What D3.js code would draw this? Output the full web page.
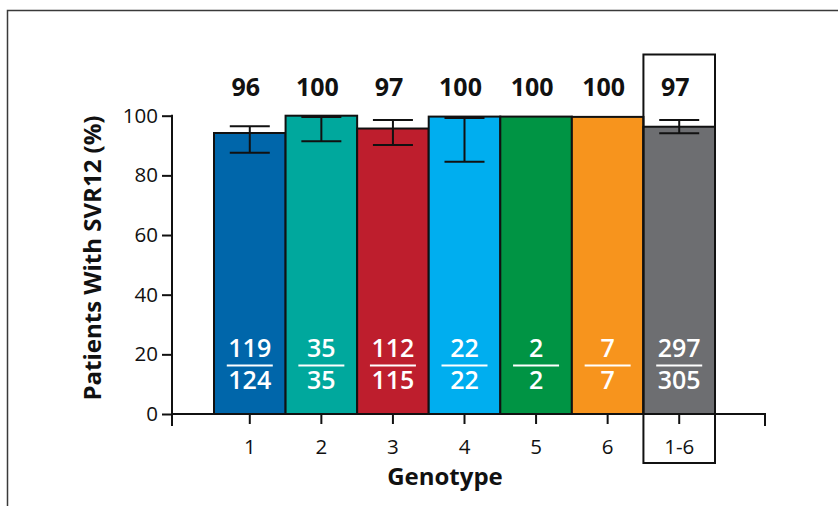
<!DOCTYPE html>
<html><head><meta charset="utf-8">
<script src="https://cdn.jsdelivr.net/npm/d3@7"></script>
<style>
html,body{margin:0;padding:0;background:#fff;}
svg{display:block;font-family:"Open Sans","Noto Sans",sans-serif;}
</style></head>
<body><svg id="c" width="838" height="506"></svg>
<script>
const categories = ["1","2","3","4","5","6","1-6"];
const barValues  = [94.2, 100, 95.7, 99.7, 99.7, 99.6, 96.3];
const pctLabels  = ["96","100","97","100","100","100","97"];
const errLow     = [87.6, 91.4, 90.2, 84.6, null, null, 94.1];
const errHigh    = [96.5, 99.6, 98.6, 99.2, null, null, 98.6];
const responders = [119, 35, 112, 22, 2, 7, 297];
const totals     = [124, 35, 115, 22, 2, 7, 305];
const barColors  = ["#0066AA","#00A89D","#BE1E2D","#00AEEF","#009444","#F7941D","#6D6E71"];
const yTicks     = [0, 20, 40, 60, 80, 100];
const yTitle = "Patients With SVR12 (%)";
const xTitle = "Genotype";

const svg = d3.select("#c");
// frame
svg.append("path").attr("d","M7.5,506 V10.5 H838").attr("fill","none").attr("stroke","#3a3a3a").attr("stroke-width",1.5);

const x = d3.scaleBand().domain(categories).range([214, 715]).padding(0);
const y = d3.scaleLinear().domain([0, 100]).range([414, 115.7]);
const axisX0 = 172, axisXEnd = 765, axisBottomExt = 426;

const g = svg.append("g");

// bars
g.selectAll("rect.bar").data(categories).join("rect").attr("class","bar")
  .attr("x", d => x(d)).attr("width", x.bandwidth())
  .attr("y", (d,i) => y(barValues[i])).attr("height", (d,i) => y(0) - y(barValues[i]))
  .attr("fill", (d,i) => barColors[i]).attr("stroke","#111").attr("stroke-width",2);

// error bars
const capW = 40;
categories.forEach((c,i) => {
  if (errLow[i] == null) return;
  const cx = x(c) + x.bandwidth()/2;
  const eg = g.append("g").attr("stroke","#111").attr("stroke-width",2);
  eg.append("line").attr("x1",cx).attr("x2",cx).attr("y1",y(errLow[i])).attr("y2",y(errHigh[i]));
  eg.append("line").attr("x1",cx-capW/2).attr("x2",cx+capW/2).attr("y1",y(errLow[i])).attr("y2",y(errLow[i]));
  eg.append("line").attr("x1",cx-capW/2).attr("x2",cx+capW/2).attr("y1",y(errHigh[i])).attr("y2",y(errHigh[i]));
});

// percentage labels
g.selectAll("text.pct").data(categories).join("text").attr("class","pct")
  .attr("x", d => x(d) + x.bandwidth()/2 - 4).attr("y", 96)
  .attr("text-anchor","middle").attr("font-weight",700).attr("font-size",25)
  .attr("fill","#111").text((d,i) => pctLabels[i]);

// fractions
categories.forEach((c,i) => {
  const cx = x(c) + x.bandwidth()/2;
  g.append("text").attr("x",cx).attr("y",357).attr("text-anchor","middle")
    .attr("font-weight",600).attr("font-size",25).attr("fill","#fff").text(responders[i]);
  g.append("line").attr("x1",cx-23).attr("x2",cx+23).attr("y1",365.5).attr("y2",365.5)
    .attr("stroke","#fff").attr("stroke-width",2);
  g.append("text").attr("x",cx).attr("y",389).attr("text-anchor","middle")
    .attr("font-weight",600).attr("font-size",25).attr("fill","#fff").text(totals[i]);
});

// y axis
const yAxis = d3.axisLeft(y).tickValues(yTicks).tickSize(10).tickPadding(4);
const ya = svg.append("g").attr("transform",`translate(${axisX0},0)`).call(yAxis);
ya.select(".domain").remove();
ya.selectAll(".tick line").attr("stroke","#111").attr("stroke-width",2);
ya.selectAll(".tick text").attr("font-size",20.5).attr("fill","#111").attr("font-family","Open Sans");
svg.append("line").attr("x1",axisX0).attr("x2",axisX0).attr("y1",y(100)-1).attr("y2",axisBottomExt)
  .attr("stroke","#111").attr("stroke-width",2);

// x axis
const xAxis = d3.axisBottom(x).tickSize(10).tickPadding(15);
const xa = svg.append("g").attr("transform",`translate(0,${y(0)})`).call(xAxis);
xa.select(".domain").remove();
xa.selectAll(".tick line").attr("stroke","#111").attr("stroke-width",2);
xa.selectAll(".tick text").attr("font-size",20.5).attr("fill","#111").attr("font-family","Open Sans");
svg.append("path").attr("d",`M${axisX0},${y(0)} H${axisXEnd} V${axisBottomExt}`)
  .attr("fill","none").attr("stroke","#111").attr("stroke-width",2);

// highlight box around total column
const last = categories[categories.length-1];
svg.append("rect").attr("x", x(last)).attr("width", x.bandwidth())
  .attr("y", 54.5).attr("height", 463 - 54.5)
  .attr("fill","none").attr("stroke","#111").attr("stroke-width",2);

// titles
svg.append("text").attr("transform","translate(101,258) rotate(-90)")
  .attr("text-anchor","middle").attr("font-weight",700).attr("font-size",24).attr("fill","#111").text(yTitle);
svg.append("text").attr("x",445).attr("y",485).attr("text-anchor","middle")
  .attr("font-weight",700).attr("font-size",24).attr("fill","#111").text(xTitle);
</script></body></html>
